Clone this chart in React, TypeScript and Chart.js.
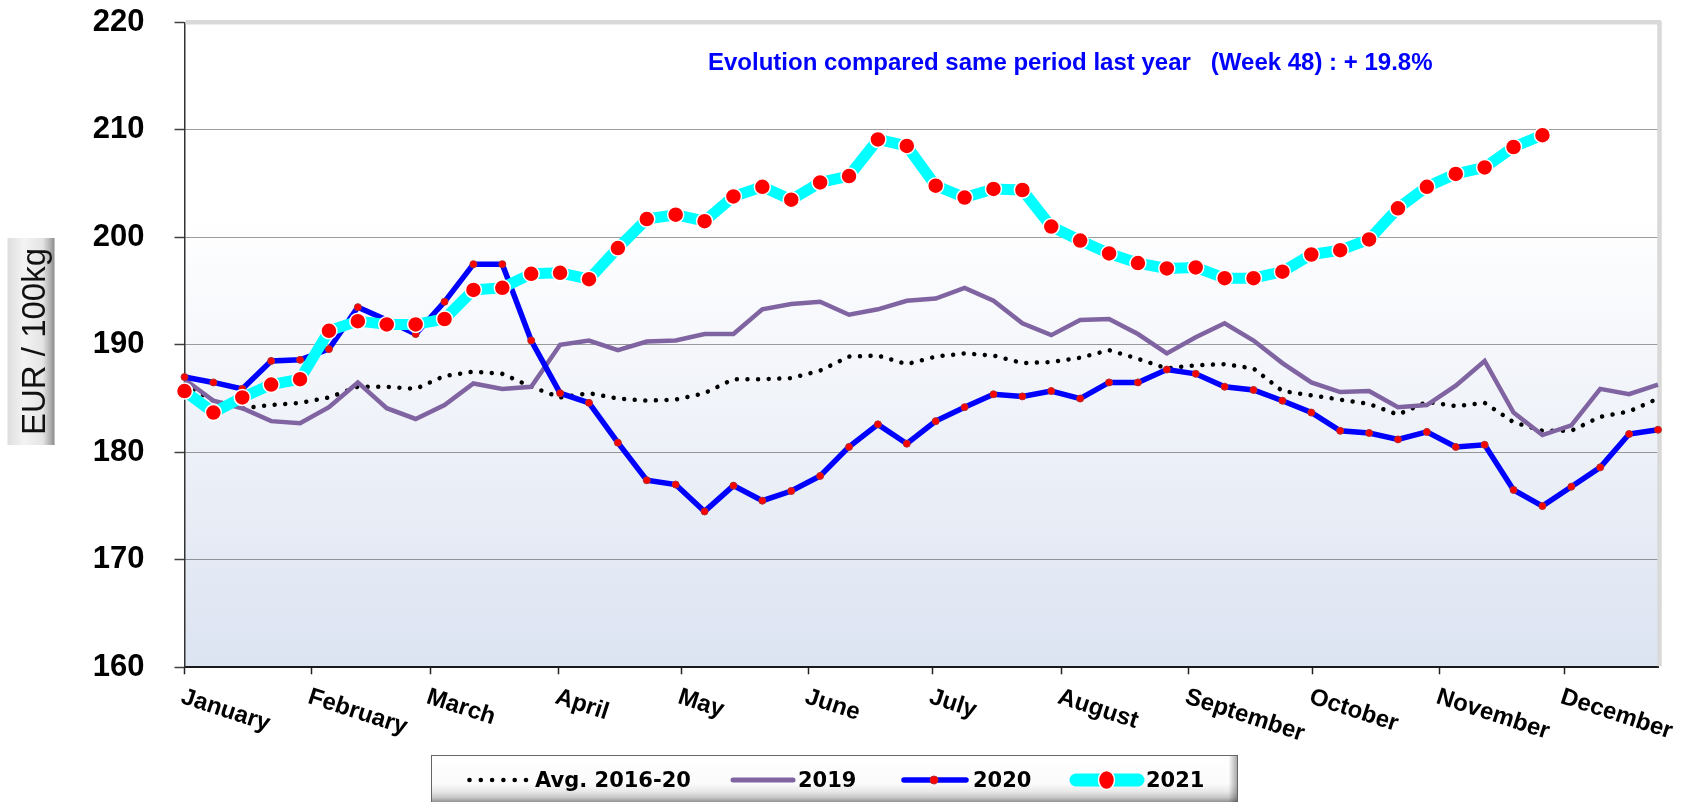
import React, { useEffect, useRef } from 'react';
import { Chart, registerables } from 'chart.js';

Chart.register(...registerables);

// ---------- data ----------
const WEEKS: number[] = Array.from({ length: 52 }, (_, i) => i + 1);

const MONTH_LABELS: string[] = [
  'January', 'February', 'March', 'April', 'May', 'June',
  'July', 'August', 'September', 'October', 'November', 'December',
];
// week position where each month starts
const MONTH_TICKS: number[] = [1, 5.4, 9.5, 13.95, 18.2, 22.6, 26.9, 31.35, 35.75, 40.05, 44.45, 48.75];

const AVG_2016_20: number[] = [
  186.3, 184.8, 184.1, 184.4, 184.6, 185.1, 186.1, 186.1, 185.9, 187.1,
  187.5, 187.3, 186.1, 185.1, 185.5, 185.0, 184.8, 184.9, 185.5, 186.8,
  186.8, 186.9, 187.6, 188.9, 189.0, 188.2, 188.9, 189.2, 189.0, 188.3,
  188.4, 188.8, 189.5, 188.7, 187.8, 188.1, 188.2, 187.8, 185.7, 185.3,
  184.9, 184.5, 183.5, 184.7, 184.3, 184.6, 182.8, 182.0, 182.0, 183.3,
  183.8, 185.0,
];

const SERIES_2019: number[] = [
  186.8, 184.8, 184.1, 182.9, 182.7, 184.2, 186.5, 184.1, 183.1, 184.4,
  186.4, 185.9, 186.1, 190.0, 190.4, 189.5, 190.3, 190.4, 191.0, 191.0,
  193.3, 193.8, 194.0, 192.8, 193.3, 194.1, 194.3, 195.3, 194.1, 192.0,
  190.9, 192.3, 192.4, 191.0, 189.2, 190.7, 192.0, 190.4, 188.3, 186.5,
  185.6, 185.7, 184.2, 184.4, 186.2, 188.5, 183.7, 181.6, 182.5, 185.9,
  185.4, 186.3,
];

const SERIES_2020: number[] = [
  187.0, 186.5, 185.9, 188.5, 188.6, 189.6, 193.5, 192.3, 191.0, 194.0,
  197.5, 197.5, 190.4, 185.5, 184.6, 180.9, 177.4, 177.0, 174.5, 176.9,
  175.5, 176.4, 177.8, 180.5, 182.6, 180.8, 182.9, 184.2, 185.4, 185.2,
  185.7, 185.0, 186.5, 186.5, 187.7, 187.3, 186.1, 185.8, 184.8, 183.7,
  182.0, 181.8, 181.2, 181.9, 180.5, 180.7, 176.5, 175.0, 176.8, 178.6,
  181.7, 182.1,
];

const SERIES_2021: number[] = [
  185.7, 183.7, 185.1, 186.3, 186.8, 191.3, 192.2, 191.9, 191.9, 192.4,
  195.1, 195.3, 196.6, 196.7, 196.1, 199.0, 201.7, 202.1, 201.5, 203.8,
  204.7, 203.5, 205.1, 205.7, 209.1, 208.5, 204.8, 203.7, 204.5, 204.4,
  201.0, 199.7, 198.5, 197.6, 197.1, 197.2, 196.2, 196.2, 196.8, 198.4,
  198.8, 199.8, 202.7, 204.7, 205.9, 206.5, 208.4, 209.5,
];

const Y_MIN = 160;
const Y_MAX = 220;
const Y_STEP = 10;

const TITLE_TEXT = 'Evolution compared same period last year   (Week 48) : + 19.8%';
const Y_TITLE = 'EUR / 100kg';
const LEGEND_LABELS: string[] = ['Avg. 2016-20', '2019', '2020', '2021'];

// ---------- helpers ----------
const toPoints = (vals: number[]) => vals.map((v, i) => ({ x: WEEKS[i], y: v }));

const W = 1688;
const H = 802;
const FONT = "'Liberation Sans', Arial, sans-serif";

const decorPlugin = {
  id: 'decor',
  beforeDraw(chart: any) {
    const { ctx, chartArea: a } = chart;
    ctx.save();
    const g = ctx.createLinearGradient(0, a.top, 0, a.bottom);
    g.addColorStop(0, '#ffffff');
    g.addColorStop(0.3, '#ffffff');
    g.addColorStop(1, '#dce3f1');
    ctx.fillStyle = g;
    ctx.fillRect(a.left, a.top, a.right - a.left, a.bottom - a.top);
    ctx.restore();
  },
  beforeDatasetsDraw(chart: any) {
    const { ctx, chartArea: a } = chart;
    ctx.save();
    ctx.strokeStyle = '#d9d9d9';
    ctx.lineWidth = 4.5;
    ctx.lineJoin = 'round';
    ctx.beginPath();
    ctx.moveTo(a.left + 1, a.top);
    ctx.lineTo(a.right + 1.5, a.top);
    ctx.lineTo(a.right + 1.5, a.bottom - 1);
    ctx.stroke();
    ctx.restore();
  },
  afterDraw(chart: any) {
    const { ctx } = chart;
    const xs = chart.scales.x;

    // Title
    ctx.save();
    ctx.fillStyle = '#0000ff';
    ctx.font = `bold 24px ${FONT}`;
    ctx.textAlign = 'left';
    ctx.textBaseline = 'alphabetic';
    ctx.fillText(TITLE_TEXT, 708, 70);
    ctx.restore();

    // Y axis title box
    ctx.save();
    const bx = 7.5, by = 238, bw = 47, bh = 207;
    const bg = ctx.createLinearGradient(bx, 0, bx + bw, 0);
    bg.addColorStop(0, '#dedede');
    bg.addColorStop(0.35, '#f3f3f3');
    bg.addColorStop(0.75, '#e4e4e4');
    bg.addColorStop(0.9, '#b4b4b4');
    bg.addColorStop(1, '#8a8a8a');
    ctx.fillStyle = bg;
    ctx.fillRect(bx, by, bw, bh);
    ctx.translate(45, by + bh / 2);
    ctx.rotate(-Math.PI / 2);
    ctx.fillStyle = '#111';
    ctx.font = `33px ${FONT}`;
    ctx.textAlign = 'center';
    ctx.textBaseline = 'alphabetic';
    ctx.fillText(Y_TITLE, 0, 0);
    ctx.restore();

    // Month labels (rotated)
    ctx.save();
    ctx.fillStyle = '#000';
    ctx.font = `bold 24px ${FONT}`;
    ctx.textAlign = 'left';
    ctx.textBaseline = 'top';
    MONTH_TICKS.forEach((v, i) => {
      const px = xs.getPixelForValue(v);
      ctx.save();
      ctx.translate(px + 1, 685);
      ctx.rotate((18 * Math.PI) / 180);
      ctx.fillText(MONTH_LABELS[i], 0, 0);
      ctx.restore();
    });
    ctx.restore();

    // Legend box
    ctx.save();
    const lx = 431.5, ly = 755.5, lw = 806, lh = 52;
    const lg = ctx.createLinearGradient(0, ly, 0, ly + 47);
    lg.addColorStop(0, '#ffffff');
    lg.addColorStop(0.6, '#fbfbfb');
    lg.addColorStop(0.78, '#e6e6e6');
    lg.addColorStop(0.9, '#c4c4c4');
    lg.addColorStop(1, '#8c8c8c');
    ctx.fillStyle = lg;
    ctx.fillRect(lx, ly, lw, lh);
    const sg = ctx.createLinearGradient(lx + lw - 9, 0, lx + lw, 0);
    sg.addColorStop(0, 'rgba(0,0,0,0)');
    sg.addColorStop(1, 'rgba(0,0,0,0.35)');
    ctx.fillStyle = sg;
    ctx.fillRect(lx + lw - 9, ly, 9, lh);
    ctx.strokeStyle = '#666';
    ctx.lineWidth = 1;
    ctx.strokeRect(lx, ly, lw, lh);

    const cy = 780;
    // avg dots
    ctx.fillStyle = '#000';
    for (let i = 0; i < 6; i++) {
      ctx.beginPath();
      ctx.arc(469.5 + i * 11.3, cy, 2.3, 0, Math.PI * 2);
      ctx.fill();
    }
    // 2019
    ctx.lineCap = 'round';
    ctx.strokeStyle = '#8064a2';
    ctx.lineWidth = 5;
    ctx.beginPath();
    ctx.moveTo(733, cy);
    ctx.lineTo(793, cy);
    ctx.stroke();
    // 2020
    ctx.strokeStyle = '#0000ff';
    ctx.lineWidth = 5.5;
    ctx.beginPath();
    ctx.moveTo(904, cy);
    ctx.lineTo(966, cy);
    ctx.stroke();
    ctx.fillStyle = '#ff0000';
    ctx.strokeStyle = '#b03030';
    ctx.lineWidth = 1;
    ctx.beginPath();
    ctx.arc(934, cy, 4, 0, Math.PI * 2);
    ctx.fill();
    ctx.stroke();
    // 2021
    ctx.strokeStyle = '#00ffff';
    ctx.lineWidth = 13;
    ctx.beginPath();
    ctx.moveTo(1076, cy);
    ctx.lineTo(1138, cy);
    ctx.stroke();
    ctx.fillStyle = '#ff0000';
    ctx.strokeStyle = '#ffffff';
    ctx.lineWidth = 1.5;
    ctx.beginPath();
    ctx.ellipse(1106.5, cy, 8, 9.5, 0, 0, Math.PI * 2);
    ctx.fill();
    ctx.stroke();

    // legend texts
    ctx.fillStyle = '#000';
    ctx.font = "bold 21px 'DejaVu Sans', sans-serif";
    ctx.textAlign = 'left';
    ctx.textBaseline = 'alphabetic';
    const tx = [535, 798, 973, 1146];
    LEGEND_LABELS.forEach((t, i) => ctx.fillText(t, tx[i], 786.5));
    ctx.restore();
  },
};

export default function App() {
  const ref = useRef<HTMLCanvasElement | null>(null);

  useEffect(() => {
    document.body.style.margin = '0';
    document.body.style.overflow = 'hidden';
    const canvas = ref.current;
    if (!canvas) return;

    const chart = new Chart(canvas, {
      type: 'line',
      data: {
        datasets: [
          {
            label: LEGEND_LABELS[0],
            data: toPoints(AVG_2016_20),
            borderColor: '#000000',
            borderWidth: 4.5,
            borderDash: [0.01, 10.6],
            borderCapStyle: 'round',
            pointRadius: 0,
            fill: false,
            order: 4,
            clip: false,
          },
          {
            label: LEGEND_LABELS[1],
            data: toPoints(SERIES_2019),
            borderColor: '#8064a2',
            borderWidth: 4.5,
            pointRadius: 0,
            fill: false,
            order: 3,
            clip: false,
          },
          {
            label: LEGEND_LABELS[2],
            data: toPoints(SERIES_2020),
            borderColor: '#0000ff',
            borderWidth: 5.5,
            pointRadius: 3.5,
            pointBackgroundColor: '#ff0000',
            pointBorderColor: '#b03030',
            pointBorderWidth: 1,
            fill: false,
            order: 2,
            clip: false,
          },
          {
            label: LEGEND_LABELS[3],
            data: toPoints(SERIES_2021),
            borderColor: '#00ffff',
            borderWidth: 11,
            borderJoinStyle: 'round',
            pointRadius: 8,
            pointBackgroundColor: '#ff0000',
            pointBorderColor: '#ffffff',
            pointBorderWidth: 1.5,
            fill: false,
            order: 1,
            clip: false,
          },
        ],
      },
      options: {
        responsive: false,
        animation: false,
        devicePixelRatio: 1,
        layout: { padding: { top: 22.3, right: W - 1658, bottom: 0, left: 0 } },
        plugins: {
          legend: { display: false },
          tooltip: { enabled: false },
          title: { display: false },
        },
        scales: {
          x: {
            type: 'linear',
            min: 1,
            max: 52,
            afterBuildTicks: (s: any) => {
              s.ticks = MONTH_TICKS.map((v) => ({ value: v }));
            },
            ticks: { display: false },
            grid: {
              drawOnChartArea: false,
              drawTicks: true,
              tickLength: 7,
              tickColor: '#222',
              tickWidth: 1.5,
            },
            border: { display: true, color: '#1a1a1a', width: 2 },
            afterFit: (s: any) => {
              s.height = H - 667.3;
              s.paddingLeft = 0;
              s.paddingRight = 0;
            },
          },
          y: {
            min: Y_MIN,
            max: Y_MAX,
            ticks: {
              stepSize: Y_STEP,
              color: '#000',
              padding: 30,
              font: { family: FONT, size: 31, weight: 'bold' },
            },
            grid: {
              color: (c: any) =>
                c.tick && (c.tick.value === Y_MIN || c.tick.value === Y_MAX) ? 'rgba(0,0,0,0)' : '#3a3a3a',
              lineWidth: 1,
              tickLength: 10,
              tickColor: '#404040',
              tickWidth: 1.5,
              tickBorderDash: [],
            },
            border: { display: true, color: '#333', width: 1.5, dash: [1, 1] },
            afterFit: (s: any) => {
              s.width = 184.5;
              s.paddingTop = 0;
              s.paddingBottom = 0;
            },
          },
        },
      },
      plugins: [decorPlugin],
    } as any);

    return () => chart.destroy();
  }, []);

  return (
    <div style={{ position: 'absolute', left: 0, top: 0, width: W, height: H }}>
      <canvas ref={ref} width={W} height={H} style={{ display: 'block', width: W, height: H }} />
    </div>
  );
}
